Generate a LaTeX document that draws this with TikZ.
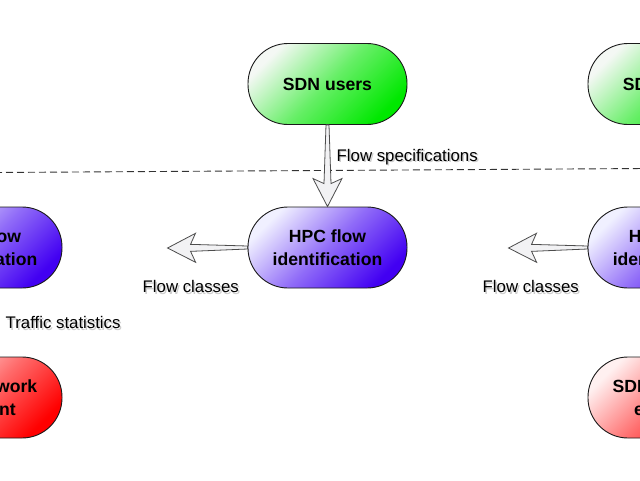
\documentclass[tikz,border=0pt]{standalone}
\usepackage{fontspec}
\setmainfont{Liberation Sans}
\usetikzlibrary{calc}
\definecolor{gfull}{HTML}{00E800}
\definecolor{glight}{HTML}{F4F8F4}
\definecolor{bfull}{HTML}{4200F2}
\definecolor{blight}{HTML}{F0F0FF}
\definecolor{rfull}{HTML}{FF0000}
\definecolor{rlight}{HTML}{FFF0F0}
\definecolor{edgecol}{HTML}{1A1A1A}
\definecolor{arrfill}{HTML}{F2F2F4}
\definecolor{arrline}{HTML}{4D4D4D}
\definecolor{dashcol}{HTML}{333333}
\tikzset{
  stadium/.style={draw=edgecol, line width=0.9pt, rounded corners=40pt,
    minimum width=159pt, minimum height=81pt, inner sep=0pt, align=center,
    font=\fontsize{17.6}{22.5}\selectfont\bfseries},
  greenbox/.style={stadium, top color=glight, bottom color=gfull, middle color=gfull!58!glight, shading angle=45},
  bluebox/.style={stadium, top color=blight, bottom color=bfull, middle color=bfull!55!blight, shading angle=45},
  redbox/.style={stadium, top color=rlight, bottom color=rfull, middle color=rfull!55!rlight, shading angle=45},
  lbl/.style={anchor=base west, inner sep=0pt, font=\fontsize{16.8}{19}\selectfont},
  lblshadow/.style={lbl, text=black!35, opacity=0.55},
  fatarrow/.style={draw=arrline, fill=arrfill, line width=0.8pt, line join=miter},
  sepline/.style={draw=dashcol, line width=0.9pt, dash pattern=on 7pt off 4pt},
}
% #1 = tail, #2 = tip
\newcommand\fatarr[2]{%
  \draw[fatarrow] (#2)
    -- ($(#2)!28pt!(#1)!14.5pt!90:(#1)$)
    -- ($(#2)!23pt!(#1)!3.5pt!90:(#1)$)
    -- ($(#1)!1.5pt!-90:(#2)$)
    -- ($(#1)!1.5pt!90:(#2)$)
    -- ($(#2)!23pt!(#1)!3.5pt!-90:(#1)$)
    -- ($(#2)!28pt!(#1)!14.5pt!-90:(#1)$)
    -- cycle;}
\begin{document}
\begin{tikzpicture}[x=1pt, y=-1pt]
\useasboundingbox (0,0) rectangle (640,480);
\fill[white] (0,0) rectangle (640,480);
\clip (0,0) rectangle (640,480);

% separator
\coordinate (dl) at (-5,172.5);
\coordinate (dr) at (645,168.5);
\draw[sepline] (dl) -- (dr);

% nodes
\node[greenbox] (sdn)  at (327.5,84) {SDN users};
\node[greenbox] (sdn2) at (667.5,84) {SDN users};
\node[bluebox]  (hpc0) at (-17.5,247.5) {HPC flow\\identification};
\node[bluebox]  (hpc)  at (327.5,247.5) {HPC flow\\identification};
\node[bluebox]  (hpc2) at (667.5,247.5) {HPC flow\\identification};
\node[redbox]   (net0) at (-17.5,397.5) {SDN network\\element};
\node[redbox]   (net2) at (667.5,397.5) {SDN network\\element};

% connectors
\coordinate (fc1) at ($(hpc.west)+(-80,0.5)$);
\coordinate (fc2) at ($(hpc2.west)+(-79,0.5)$);
\fatarr{sdn.south}{hpc.north}
\fatarr{hpc.west}{fc1}
\fatarr{hpc2.west}{fc2}

% labels
\node[lblshadow] (fs-s) at (338,162.5) {Flow specifications};
\node[lbl]       (fs)   at (336.5,161) {Flow specifications};
\node[lblshadow] (fc1-s) at (144,294) {Flow classes};
\node[lbl]       (fc1l)  at (142.5,292.5) {Flow classes};
\node[lblshadow] (fc2-s) at (484,294) {Flow classes};
\node[lbl]       (fc2l)  at (482.5,292.5) {Flow classes};
\node[lblshadow] (ts-s) at (7,330) {Traffic statistics};
\node[lbl]       (ts)   at (5.5,328.5) {Traffic statistics};
\end{tikzpicture}
\end{document}
